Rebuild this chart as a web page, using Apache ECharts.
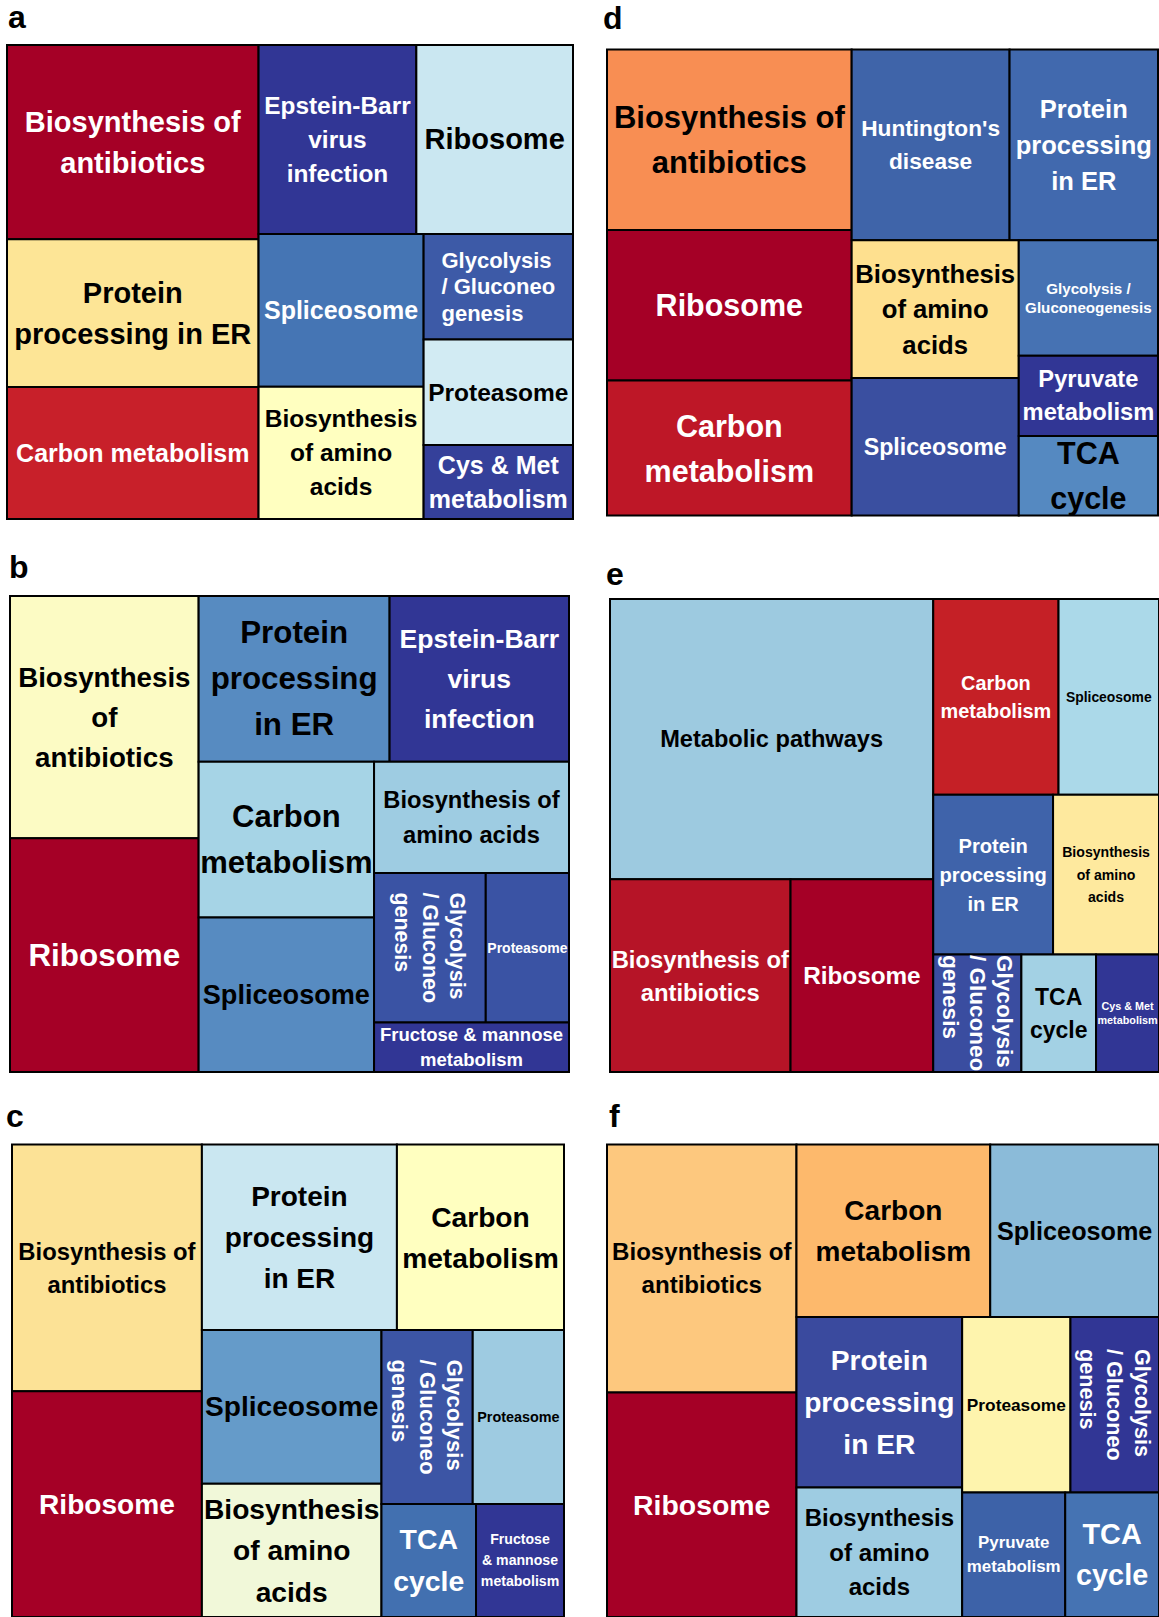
<!DOCTYPE html>
<html>
<head>
<meta charset="utf-8">
<script src="https://cdn.jsdelivr.net/npm/echarts@6/dist/echarts.min.js"></script>
<style>
  html, body { margin: 0; padding: 0; background: #fff; }
  #chart { width: 1159px; height: 1617px; }
</style>
</head>
<body>
<div id="chart"></div>
<script>
// ---------- KEGG pathway terms and their cell sizes, one set per panel ----------
// (labels carry the line breaks used inside each cell)

// Panel a
const termsA = ['Biosynthesis of\nantibiotics', 'Protein\nprocessing in ER', 'Carbon metabolism',
  'Epstein-Barr\nvirus\ninfection', 'Ribosome', 'Spliceosome', 'Biosynthesis\nof amino\nacids',
  'Glycolysis\n/ Gluconeo\ngenesis', 'Proteasome', 'Cys & Met\nmetabolism'];
const sizesA = [45.9, 34.9, 31.2, 28.0, 27.8, 23.7, 20.5, 14.8, 14.8, 10.4];

// Panel b
const termsB = ['Biosynthesis\nof\nantibiotics', 'Ribosome', 'Protein\nprocessing\nin ER',
  'Epstein-Barr\nvirus\ninfection', 'Carbon\nmetabolism', 'Spliceosome', 'Biosynthesis of\namino acids',
  'Glycolysis\n/ Gluconeo\ngenesis', 'Proteasome', 'Fructose & mannose\nmetabolism'];
const sizesB = [43.0, 41.5, 29.8, 28.0, 25.7, 25.5, 20.4, 15.7, 11.7, 9.1];

// Panel c
const termsC = ['Biosynthesis of\nantibiotics', 'Ribosome', 'Protein\nprocessing\nin ER',
  'Carbon\nmetabolism', 'Spliceosome', 'Biosynthesis\nof amino\nacids',
  'Glycolysis\n/ Gluconeo\ngenesis', 'Proteasome', 'TCA\ncycle', 'Fructose\n& mannose\nmetabolism'];
const sizesC = [44.3, 40.5, 34.2, 29.3, 26.1, 22.6, 15.0, 15.0, 10.1, 9.4];

// Panel d
const termsD = ['Biosynthesis of\nantibiotics', 'Ribosome', 'Carbon\nmetabolism',
  "Huntington's\ndisease", 'Protein\nprocessing\nin ER', 'Biosynthesis\nof amino\nacids',
  'Spliceosome', 'Glycolysis /\nGluconeogenesis', 'Pyruvate\nmetabolism', 'TCA\ncycle'];
const sizesD = [41.5, 34.6, 31.0, 28.3, 26.6, 21.6, 21.6, 15.1, 10.5, 10.4];

// Panel e
const termsE = ['Metabolic pathways', 'Biosynthesis of\nantibiotics', 'Ribosome',
  'Carbon\nmetabolism', 'Spliceosome', 'Protein\nprocessing\nin ER', 'Biosynthesis\nof amino\nacids',
  'Glycolysis\n/ Gluconeo\ngenesis', 'TCA\ncycle', 'Cys & Met\nmetabolism'];
const sizesE = [85.7, 32.9, 26.0, 23.2, 18.6, 18.1, 16.0, 9.8, 8.3, 7.0];

// Panel f
const termsF = ['Biosynthesis of\nantibiotics', 'Ribosome', 'Carbon\nmetabolism', 'Spliceosome',
  'Protein\nprocessing\nin ER', 'Biosynthesis\nof amino\nacids', 'Proteasome',
  'Glycolysis\n/ Gluconeo\ngenesis', 'Pyruvate\nmetabolism', 'TCA\ncycle'];
const sizesF = [44.7, 40.5, 31.8, 27.7, 26.9, 20.4, 18.1, 14.8, 12.2, 11.1];

// ---------- cell styling (fill, text colour, font size, line height, label mode) ----------
const W = '#fff', K = '#000';
const styleA = {
  fill: ['#A50026', '#FDE596', '#C8202A', '#313695', '#CAE7F1', '#4575B4', '#FFFFC0', '#3D5AA7', '#D2EBF3', '#35409A'],
  ink: [W, K, W, W, K, W, K, W, K, W],
  size: [29, 29, 25, 24.4, 29, 25, 24.5, 22, 24.5, 25],
  lead: [41, 41, 30, 34, 30, 30, 34, 26.5, 30, 34],
  mode: [0, 0, 0, 0, 0, 0, 0, 'left', 0, 0]
};
const styleB = {
  fill: ['#FCFBC4', '#A50026', '#578BC1', '#313695', '#A6D4E6', '#578BC1', '#9ECCE2', '#3A53A4', '#3A53A4', '#313695'],
  ink: [K, W, K, W, K, K, K, W, W, W],
  size: [27.7, 31.4, 31.3, 26.6, 31, 27.1, 23.7, 21.4, 14, 18.5],
  lead: [40, 36, 46, 40, 45.4, 32, 34.3, 27.5, 20, 24.7],
  mode: [0, 0, 0, 0, 0, 0, 0, 'rot', 0, 0]
};
const styleC = {
  fill: ['#FCE296', '#A50026', '#CAE7F1', '#FFFFC0', '#659BC9', '#F1F8D9', '#3C55A5', '#9ECBE1', '#4270B0', '#313695'],
  ink: [K, W, K, K, K, K, W, K, W, W],
  size: [23.8, 28.1, 28, 28.2, 28.1, 28.2, 22.3, 14.4, 28.4, 14.1],
  lead: [33, 34, 41.2, 41.2, 34, 41.8, 27.3, 18, 42, 21],
  mode: [0, 0, 0, 0, 0, 0, 'rot', 0, 0, 0]
};
const styleD = {
  fill: ['#F88E53', '#A50026', '#BE1727', '#3F64A9', '#4169AE', '#FEE08F', '#3A4FA0', '#4672B3', '#313695', '#5589C1'],
  ink: [K, W, W, W, W, K, W, W, W, K],
  size: [31, 30.5, 30.5, 22.7, 25.5, 25.7, 23.2, 15.2, 23.7, 30.5],
  lead: [45, 36, 45, 33, 36, 35.5, 30, 19.6, 33, 45],
  mode: [0, 0, 0, 0, 0, 0, 0, 0, 0, 0]
};
const styleE = {
  fill: ['#9DCAE0', '#B61427', '#A50026', '#C52026', '#ABD9E9', '#3F63AA', '#FEE99E', '#3A4DA0', '#A3D1E4', '#313695'],
  ink: [K, W, W, W, K, W, K, W, K, W],
  size: [23.6, 23.8, 24.3, 19.9, 13.9, 20.1, 14.1, 22.5, 23, 10.8],
  lead: [28, 33, 28, 27.8, 18, 29, 22.2, 26.8, 33, 14.4],
  mode: [0, 0, 0, 0, 0, 0, 0, 'rot', 0, 0]
};
const styleF = {
  fill: ['#FDC87E', '#A50026', '#FDB96C', '#8BBBD9', '#3A4A9E', '#9ECCE2', '#FEF4AD', '#313695', '#3D62A8', '#4573B3'],
  ink: [K, W, K, K, W, K, K, W, W, W],
  size: [24.1, 28.4, 28, 25.2, 28.2, 24, 17.3, 21.6, 16.9, 28.8],
  lead: [33, 34, 41.2, 30, 41.8, 34.5, 20, 27.3, 23.7, 41.2],
  mode: [0, 0, 0, 0, 0, 0, 0, 'rot', 0, 0]
};

// ---------- panel frames on the page ----------
const panels = [
  { tag: 'a', terms: termsA, sizes: sizesA, style: styleA, box: { left: 7, top: 45, width: 566, height: 474 }, tagPos: [8, 17] },
  { tag: 'b', terms: termsB, sizes: sizesB, style: styleB, box: { left: 10, top: 596, width: 559, height: 476 }, tagPos: [9, 567] },
  { tag: 'c', terms: termsC, sizes: sizesC, style: styleC, box: { left: 12, top: 1144.5, width: 552, height: 475 }, tagPos: [6, 1116] },
  { tag: 'd', terms: termsD, sizes: sizesD, style: styleD, box: { left: 607, top: 49.5, width: 551, height: 466 }, tagPos: [603, 18] },
  { tag: 'e', terms: termsE, sizes: sizesE, style: styleE, box: { left: 610, top: 599, width: 552, height: 473 }, tagPos: [606, 574] },
  { tag: 'f', terms: termsF, sizes: sizesF, style: styleF, box: { left: 607, top: 1144.5, width: 553, height: 477 }, tagPos: [609, 1116] }
];

const FONT_FAMILY = '"Liberation Sans", Arial, Helvetica, sans-serif';

// Pivot-by-size treemap: the largest item is the pivot; the following items are split
// into the group sharing the pivot's strip and the remainder, keeping the pivot squarest.
function pivotBySize(items, x, y, w, h, out) {
  if (!items.length) return;
  if (items.length === 1) { out.push({ item: items[0], x, y, w, h }); return; }
  const total = items.reduce((s, d) => s + d.value, 0);
  const pivot = items[0];
  const rest = items.slice(1);
  const wide = w >= h;
  let bestK = 0, bestRatio = Infinity, acc = pivot.value;
  for (let k = 0; k <= rest.length; k++) {
    if (k > 0) acc += rest[k - 1].value;
    let pw, ph;
    if (wide) { pw = w * acc / total; ph = h * pivot.value / acc; }
    else { ph = h * acc / total; pw = w * pivot.value / acc; }
    const r = Math.max(pw / ph, ph / pw);
    if (r < bestRatio - 1e-9) { bestRatio = r; bestK = k; }
  }
  const group = rest.slice(0, bestK);
  const remainder = rest.slice(bestK);
  const s = pivot.value + group.reduce((t, d) => t + d.value, 0);
  if (wide) {
    const sw = w * s / total, ph = h * pivot.value / s;
    out.push({ item: pivot, x, y, w: sw, h: ph });
    pivotBySize(group, x, y + ph, sw, h - ph, out);
    pivotBySize(remainder, x + sw, y, w - sw, h, out);
  } else {
    const sh = h * s / total, pw = w * pivot.value / s;
    out.push({ item: pivot, x, y, w: pw, h: sh });
    pivotBySize(group, x + pw, y, w - pw, sh, out);
    pivotBySize(remainder, x, y + sh, w, h - sh, out);
  }
}

const measureCtx = document.createElement('canvas').getContext('2d');
function textWidth(str, font) { measureCtx.font = font; return measureCtx.measureText(str).width; }

const chart = echarts.init(document.getElementById('chart'), null, { renderer: 'svg' });

const grids = [], xAxes = [], yAxes = [], series = [], graphics = [];

panels.forEach((p, pi) => {
  const b = p.box;
  grids.push({ left: b.left, top: b.top, width: b.width, height: b.height, show: false });
  xAxes.push({ type: 'value', gridIndex: pi, min: 0, max: b.width, show: false });
  yAxes.push({ type: 'value', gridIndex: pi, min: 0, max: b.height, inverse: true, show: false });

  const items = p.sizes.map((v, i) => ({ value: v, index: i }))
    .sort((u, v) => v.value - u.value);
  const cells = [];
  pivotBySize(items, 0, 0, b.width, b.height, cells);
  const data = cells.map(c => [c.x, c.y, c.x + c.w, c.y + c.h, c.item.index, c.item.value]);

  const st = p.style;
  series.push({
    type: 'custom',
    name: p.tag,
    xAxisIndex: pi,
    yAxisIndex: pi,
    silent: true,
    animation: false,
    encode: { x: [0, 2], y: [1, 3] },
    data: data,
    renderItem: function (params, api) {
      const i = api.value(4);
      const p0 = api.coord([api.value(0), api.value(1)]);
      const p1 = api.coord([api.value(2), api.value(3)]);
      const x = Math.min(p0[0], p1[0]), y = Math.min(p0[1], p1[1]);
      const w = Math.abs(p1[0] - p0[0]), h = Math.abs(p1[1] - p0[1]);
      const label = p.terms[i];
      const font = 'bold ' + st.size[i] + 'px ' + FONT_FAMILY;
      const cx = x + w / 2, cy = y + h / 2;
      let text;
      if (st.mode[i] === 'left' || st.mode[i] === 'rot') {
        const maxW = Math.max.apply(null, label.split('\n').map(l => textWidth(l, font)));
        text = {
          type: 'text', x: cx, y: cy,
          rotation: st.mode[i] === 'rot' ? -Math.PI / 2 : 0,
          style: {
            text: label, x: -maxW / 2, y: 0,
            align: 'left', textAlign: 'left',
            verticalAlign: 'middle', textVerticalAlign: 'middle',
            font: font, fill: st.ink[i], lineHeight: st.lead[i]
          }
        };
      } else {
        text = {
          type: 'text', x: cx, y: cy,
          style: {
            text: label, x: 0, y: 0,
            align: 'center', textAlign: 'center',
            verticalAlign: 'middle', textVerticalAlign: 'middle',
            font: font, fill: st.ink[i], lineHeight: st.lead[i]
          }
        };
      }
      return {
        type: 'group',
        children: [
          { type: 'rect', shape: { x: x, y: y, width: w, height: h },
            style: { fill: st.fill[i], stroke: '#000', lineWidth: 2 } },
          text
        ]
      };
    }
  });

  graphics.push({
    type: 'text', x: p.tagPos[0], y: p.tagPos[1], silent: true,
    style: { text: p.tag, font: 'bold 32px ' + FONT_FAMILY, fill: '#000',
      align: 'left', textAlign: 'left', verticalAlign: 'middle', textVerticalAlign: 'middle' }
  });
});

chart.setOption({
  backgroundColor: '#fff',
  animation: false,
  grid: grids,
  xAxis: xAxes,
  yAxis: yAxes,
  series: series,
  graphic: { elements: graphics }
});
</script>
</body>
</html>
